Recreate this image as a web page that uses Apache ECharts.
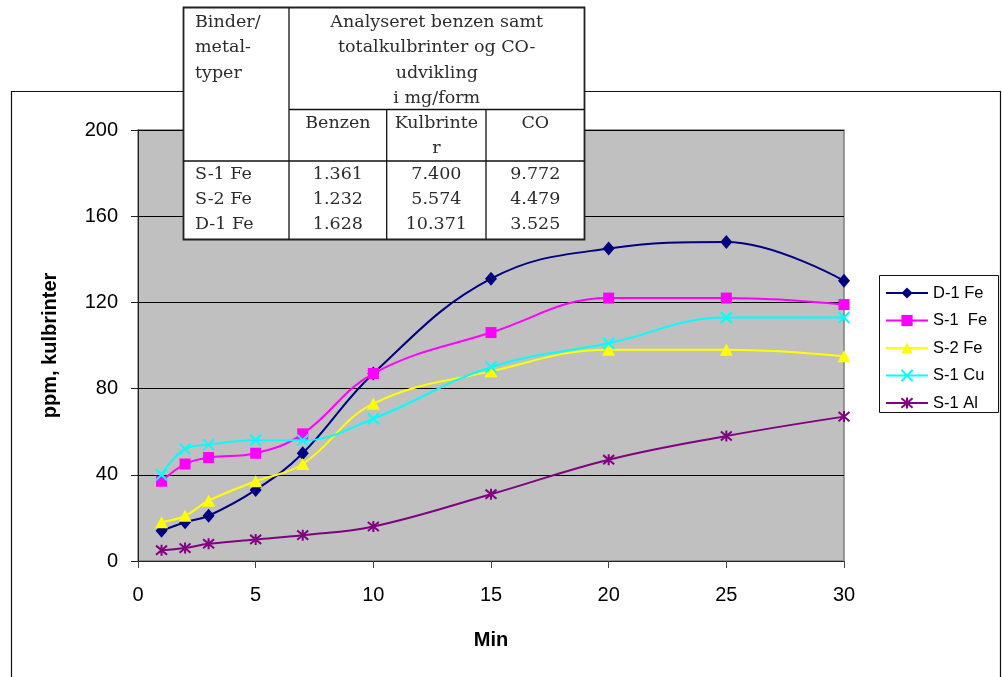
<!DOCTYPE html>
<html>
<head>
<meta charset="utf-8">
<script src="https://cdn.jsdelivr.net/npm/echarts@6/dist/echarts.min.js"></script>
<style>
html,body{margin:0;padding:0;background:#fff;}
#chart{width:1002px;height:677px;}
</style>
</head>
<body>
<div id="chart"></div>
<script>
// ---- data ----
var minutes = [1, 2, 3, 5, 7, 10, 15, 20, 25, 30];
var seriesNames = ['D-1 Fe', 'S-1  Fe', 'S-2 Fe', 'S-1 Cu', 'S-1 Al'];
var d1Fe = [14, 18, 21, 33, 50, 87, 131, 145, 148, 130];
var s1Fe = [37, 45, 48, 50, 59, 87, 106, 122, 122, 119];
var s2Fe = [18, 21, 28, 37, 45, 73, 88, 98, 98, 95];
var s1Cu = [40, 52, 54, 56, 56, 66, 90, 101, 113, 113];
var s1Al = [5, 6, 8, 10, 12, 16, 31, 47, 58, 67];

var yAxisTitle = 'ppm, kulbrinter';
var xAxisTitle = 'Min';

// table content
var tableHeaderLeft = ['Binder/', 'metal-', 'typer'];
var tableHeaderTitle = ['Analyseret benzen samt', 'totalkulbrinter og CO-', 'udvikling', 'i mg/form'];
var tableColumns = [['Benzen'], ['Kulbrinte', 'r'], ['CO']];
var tableRowLabels = ['S-1 Fe', 'S-2 Fe', 'D-1 Fe'];
var benzenValues = ['1.361', '1.232', '1.628'];
var kulbrinterValues = ['7.400', '5.574', '10.371'];
var coValues = ['9.772', '4.479', '3.525'];

// ---- build ----
function pairs(ys) { return minutes.map(function (m, i) { return [m, ys[i]]; }); }

var FONT = 'Arial, "Liberation Sans", sans-serif';
var SERIF = '"DejaVu Serif", serif';
var xPath = 'path://M0,0 L10,10 M10,0 L0,10';
var starPath = 'path://M0,0 L10,10 M10,0 L0,10 M5,-1 L5,11';

function mkSeries(name, data, color, symbol, size, stroked) {
  return {
    name: name,
    type: 'line',
    data: pairs(data),
    smooth: 0.4,
    symbol: symbol,
    symbolSize: size,
    showAllSymbol: true,
    lineStyle: { color: color, width: 2 },
    itemStyle: stroked ? { color: color, borderColor: color, borderWidth: 2 } : { color: color, borderWidth: 0 },
    emphasis: { disabled: true },
    animation: false
  };
}

// table graphic
var T = { x0: 183.5, x1: 289, x2: 386.7, x3: 486, x4: 584.5, y0: 7.5, yh: 109.5, ys: 161, y1: 239.5 };
var tg = [];
var textStyle = function (t, x, y, align) {
  return { type: 'text', z: 20, style: { text: t, x: x, y: y, font: '17.5px ' + SERIF, fill: '#2c2c2c', align: align || 'center', verticalAlign: 'middle' } };
};
tg.push({ type: 'rect', z: 15, shape: { x: T.x0, y: T.y0, width: T.x4 - T.x0, height: T.y1 - T.y0 }, style: { fill: '#fff', stroke: '#222', lineWidth: 1.8 } });
function ln(x1, y1, x2, y2) { tg.push({ type: 'line', z: 18, shape: { x1: x1, y1: y1, x2: x2, y2: y2 }, style: { stroke: '#111', lineWidth: 1.3 } }); }
ln(T.x1, T.y0, T.x1, T.y1);
ln(T.x1, T.yh, T.x4, T.yh);
ln(T.x0, T.ys, T.x4, T.ys);
ln(T.x2, T.yh, T.x2, T.y1);
ln(T.x3, T.yh, T.x3, T.y1);
tableHeaderLeft.forEach(function (t, i) { tg.push(textStyle(t, 195, 22 + i * 25.5, 'left')); });
tableHeaderTitle.forEach(function (t, i) { tg.push(textStyle(t, (T.x1 + T.x4) / 2, 22 + i * 25.5)); });
var colCenters = [(T.x1 + T.x2) / 2, (T.x2 + T.x3) / 2, (T.x3 + T.x4) / 2];
tableColumns.forEach(function (lines, c) {
  lines.forEach(function (t, j) { tg.push(textStyle(t, colCenters[c], 123 + j * 25.5)); });
});
var colValues = [benzenValues, kulbrinterValues, coValues];
tableRowLabels.forEach(function (t, r) {
  var y = 174 + r * 25;
  tg.push(textStyle(t, 195, y, 'left'));
  colValues.forEach(function (vals, c) { tg.push(textStyle(vals[r], colCenters[c], y)); });
});

// outer frame and legend box
var frame = [
  { type: 'rect', z: 1, silent: true, shape: { x: 11.5, y: 91.5, width: 989, height: 620 }, style: { fill: 'none', stroke: '#111', lineWidth: 1.2 } },
  { type: 'rect', z: 1, silent: true, shape: { x: 879.5, y: 275.5, width: 119, height: 137 }, style: { fill: '#fff', stroke: '#111', lineWidth: 1 } }
];

var option = {
  animation: false,
  backgroundColor: '#fff',
  textStyle: { fontFamily: FONT },
  graphic: frame.concat(tg),
  grid: {
    left: 138, right: 158, top: 130, bottom: 116,
    show: true, backgroundColor: '#C0C0C0', borderColor: '#808080', borderWidth: 1.5
  },
  legend: {
    orient: 'vertical',
    left: 885, top: 284.5,
    itemWidth: 42, itemHeight: 14, itemGap: 10.5,
    padding: 0,
    textStyle: { fontFamily: FONT, fontSize: 16.5, color: '#000' },
    data: seriesNames
  },
  xAxis: {
    type: 'value', min: 0, max: 30, interval: 5,
    name: xAxisTitle, nameLocation: 'middle', nameGap: 69,
    nameTextStyle: { fontFamily: FONT, fontSize: 20, fontWeight: 'bold', color: '#000' },
    axisLine: { show: true, lineStyle: { color: '#222', width: 1 } },
    axisTick: { show: true, length: 7, lineStyle: { color: '#444' } },
    axisLabel: { fontFamily: FONT, fontSize: 20, color: '#000', margin: 24 },
    splitLine: { show: false }
  },
  yAxis: {
    type: 'value', min: 0, max: 200, interval: 40,
    name: yAxisTitle, nameLocation: 'middle', nameGap: 78,
    nameTextStyle: { fontFamily: FONT, fontSize: 20, fontWeight: 'bold', color: '#000' },
    axisLine: { show: true, lineStyle: { color: '#222', width: 1 } },
    axisTick: { show: true, length: 7, lineStyle: { color: '#222' } },
    axisLabel: { fontFamily: FONT, fontSize: 20, color: '#000', margin: 20 },
    splitLine: { show: true, lineStyle: { color: '#000', width: 1 } }
  },
  series: [
    mkSeries(seriesNames[0], d1Fe, '#000080', 'diamond', [12, 14], false),
    mkSeries(seriesNames[1], s1Fe, '#FF00FF', 'rect', 11, false),
    mkSeries(seriesNames[2], s2Fe, '#FFFF00', 'triangle', [13, 12], false),
    mkSeries(seriesNames[3], s1Cu, '#00FFFF', xPath, 11, true),
    mkSeries(seriesNames[4], s1Al, '#800080', starPath, 11, true)
  ]
};

var chart = echarts.init(document.getElementById('chart'), null, { renderer: 'canvas' });
chart.setOption(option);
</script>
</body>
</html>
